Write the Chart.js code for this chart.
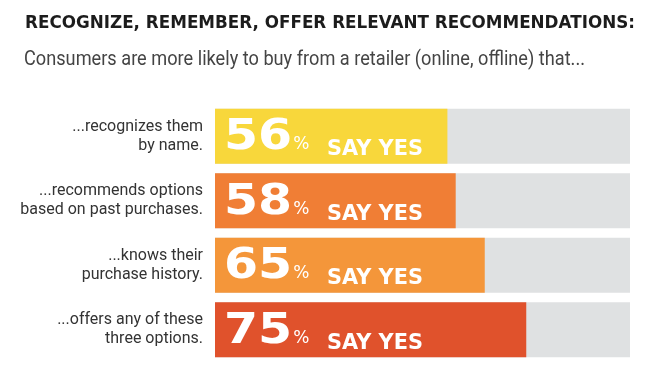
<!DOCTYPE html>
<html>
<head>
<meta charset="utf-8">
<script src="https://cdn.jsdelivr.net/npm/chart.js@4/dist/chart.umd.min.js"></script>
<style>
  html, body { margin: 0; padding: 0; background: #fff; }
  #wrap { width: 662px; height: 378px; }
</style>
</head>
<body>
<div id="wrap"><canvas id="chart"></canvas></div>
<script>
const title = 'RECOGNIZE, REMEMBER, OFFER RELEVANT RECOMMENDATIONS:'
const subtitle = 'Consumers are more likely to buy from a retailer (online, offline) that...'
const categories = [
    ['...recognizes them', 'by name.'],
    ['...recommends options', 'based on past purchases.'],
    ['...knows their', 'purchase history.'],
    ['...offers any of these', 'three options.']
]
const sayYes = [56, 58, 65, 75]
const fullScale = [100, 100, 100, 100]
const barColors = ['#F8D73B', '#F07E35', '#F4963A', '#E0522C']
const trackColor = '#DFE1E2'

// title, subtitle and the "NN% SAY YES" text inside bars
const textPlugin = {
    id: 'textPlugin',
    afterDraw(chart) {
        const ctx = chart.ctx
        ctx.save()
        ctx.textBaseline = 'alphabetic'
        ctx.textAlign = 'left'
        ctx.fillStyle = '#1c1c1c'
        ctx.font = 'bold 18px "DejaVu Sans"'
        ctx.fillText(title, 25, 28, 610)
        ctx.fillStyle = '#444'
        ctx.font = '20px Roboto'
        ctx.fillText(subtitle, 24, 65, 561)

        const meta = chart.getDatasetMeta(0)
        meta.data.forEach((bar, i) => {
            const x0 = bar.base
            const yc = bar.y
            ctx.fillStyle = '#fff'
            ctx.font = 'bold 43px "DejaVu Sans"'
            const num = String(sayYes[i])
            const w = ctx.measureText(num).width * 1.14
            ctx.save()
            ctx.translate(x0 + 9, yc + 13)
            ctx.scale(1.14, 1)
            ctx.fillText(num, 0, 0)
            ctx.restore()
            ctx.font = '17px "DejaVu Sans"'
            ctx.fillText('%', x0 + 10 + w, yc + 13)
            ctx.font = 'bold 21px "DejaVu Sans"'
            ctx.fillText('SAY YES', x0 + 112, yc + 19, 96)
        })
        ctx.restore()
    }
}

const data = {
    labels: categories,
    datasets: [{
        label: 'Say yes',
        data: sayYes,
        backgroundColor: barColors,
        borderWidth: 0
    }, {
        label: 'Track',
        data: fullScale,
        backgroundColor: trackColor,
        borderWidth: 0
    }]
}

const config = {
    type: 'bar',
    data: data,
    options: {
        indexAxis: 'y',
        responsive: true,
        maintainAspectRatio: false,
        animation: false,
        grouped: false,
        categoryPercentage: 1,
        barPercentage: 0.855,
        layout: {
            padding: { top: 104, bottom: 16, left: 0, right: 32 }
        },
        scales: {
            x: {
                display: false,
                min: 0,
                max: 100
            },
            y: {
                afterFit(scale) {
                    scale.width = 215
                    scale.paddingTop = 0
                    scale.paddingBottom = 0
                },
                grid: { display: false, drawTicks: false },
                border: { display: false },
                ticks: {
                    padding: 12,
                    color: '#333',
                    font: { family: 'Roboto', size: 16 }
                }
            }
        },
        plugins: {
            legend: { display: false },
            tooltip: { enabled: false }
        }
    },
    plugins: [textPlugin]
}

var chart = new Chart(document.getElementById('chart'), config)
</script>
</body>
</html>
